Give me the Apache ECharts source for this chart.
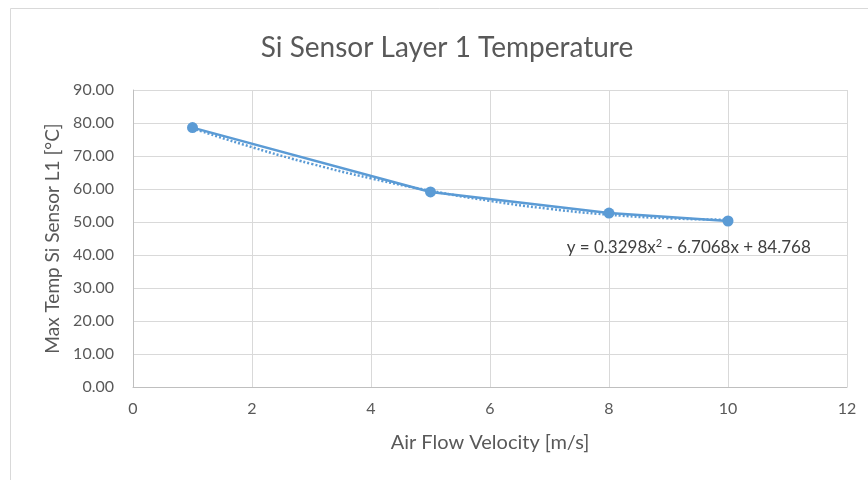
<!DOCTYPE html>
<html><head><meta charset="utf-8">
<script src="https://cdn.jsdelivr.net/npm/echarts@6/dist/echarts.min.js"></script>
<style>html,body{margin:0;padding:0;background:#fff}#c{width:868px;height:480px}</style>
</head><body><div id="c"></div>
<script>
var velocity = [1, 5, 8, 10];
var maxTemp = [78.6, 59.1, 52.7, 50.3];
var trendX = [1, 2, 3, 4, 5, 6, 7, 8, 9, 10];
var trendY = [78.39, 72.67, 67.62, 63.22, 59.48, 56.40, 53.98, 52.22, 51.12, 50.68];
var chartTitle = 'Si Sensor Layer 1 Temperature';
var equationText = 'y = 0.3298x{sup|2} - 6.7068x + 84.768';

var FONT = 'Lato';
var chart = echarts.init(document.getElementById('c'));
chart.setOption({
  animation: false,
  textStyle: {fontFamily: FONT},
  graphic: [{type: 'rect', shape: {x: 10.5, y: 8.5, width: 900, height: 500}, style: {fill: 'none', stroke: '#d9d9d9', lineWidth: 1}}],
  title: {text: chartTitle, left: 442, top: 29, textAlign: 'center',
    textStyle: {fontFamily: FONT, fontSize: 28, fontWeight: 'normal', color: '#595959'}},
  grid: {left: 133, right: 21, top: 90, bottom: 93},
  xAxis: {type: 'value', min: 0, max: 12, interval: 2,
    name: 'Air Flow Velocity [m/s]', nameLocation: 'middle', nameGap: 46,
    nameTextStyle: {fontFamily: FONT, fontSize: 20, color: '#595959'},
    axisLine: {show: true, lineStyle: {color: '#bfbfbf'}}, axisTick: {show: false},
    axisLabel: {fontFamily: FONT, fontSize: 16, color: '#595959', margin: 14},
    splitLine: {show: true, lineStyle: {color: '#d9d9d9'}}},
  yAxis: {type: 'value', min: 0, max: 90, interval: 10,
    name: 'Max Temp Si Sensor L1 [°C]', nameLocation: 'middle', nameGap: 70,
    nameTextStyle: {fontFamily: FONT, fontSize: 19, color: '#595959'},
    axisLine: {show: true, lineStyle: {color: '#bfbfbf'}}, axisTick: {show: false},
    axisLabel: {fontFamily: FONT, fontSize: 16, color: '#595959', margin: 19,
      formatter: function (v) { return v.toFixed(2); }},
    splitLine: {show: true, lineStyle: {color: '#d9d9d9'}}},
  series: [
    {type: 'line', data: trendX.map(function (x, i) { return [x, trendY[i]]; }),
      smooth: true, symbol: 'none', lineStyle: {color: '#5b9bd5', width: 2.5, type: [2, 2]},
      markPoint: {symbol: 'circle', symbolSize: 1, itemStyle: {color: 'rgba(0,0,0,0)'},
        data: [{coord: [9.34, 42.2]}],
        label: {show: true, position: 'inside', formatter: equationText, color: '#404040', fontFamily: FONT, fontSize: 17,
          rich: {sup: {fontSize: 11, color: '#404040', fontFamily: FONT, padding: [0, 0, 9, 0]}}}}},
    {type: 'line', data: velocity.map(function (x, i) { return [x, maxTemp[i]]; }),
      symbol: 'circle', symbolSize: 11, itemStyle: {color: '#5b9bd5'},
      lineStyle: {color: '#5b9bd5', width: 2.5}}
  ]
});
</script></body></html>
